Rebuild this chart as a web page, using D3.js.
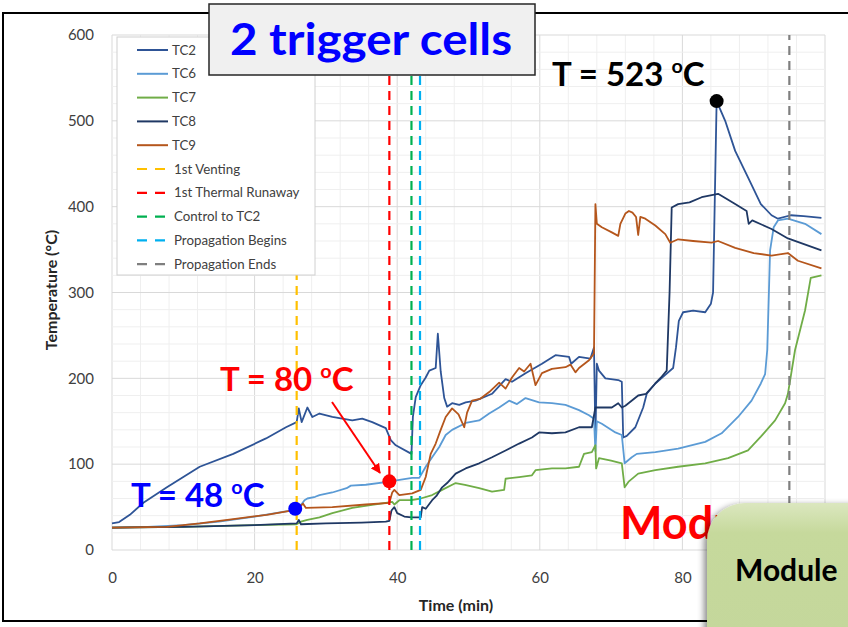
<!DOCTYPE html>
<html><head><meta charset="utf-8">
<script src="https://cdn.jsdelivr.net/npm/d3@7"></script>
<style>
body{margin:0;background:#fff}
svg{display:block}
text{font-family:Lato,"Noto Sans",sans-serif}
</style>
</head><body>
<svg id="c" width="848" height="627"></svg>
<script>
// ---------- data ----------
const xTicks = [0, 20, 40, 60, 80];
const yTicks = [0, 100, 200, 300, 400, 500, 600];
const seriesNames = ["TC2", "TC6", "TC7", "TC8", "TC9"];
const seriesColors = ["#2e5496", "#5b9bd5", "#70ad47", "#1f3864", "#b5561c"];

const tc2Time = [0,1,2.5,4.4,7.7,12.3,17,21.6,24.4,25.9,26.2,26.6,27.4,28.1,29.1,30.9,33.7,35.1,36.5,38.4,39.1,39.8,42,42.2,42.6,43.3,44,44.5,45.4,45.7,46.1,46.6,47,47.7,48.7,49.6,51,53.3,55.2,56.1,58,60.3,62.2,64.1,64.4,65.5,67.1,67.6,67.8,68,68.3,69.2,71,71.5,71.7,72.2,73.4,74.5,75,76.2,77.6,78.7,79.1,79.5,80.1,81.5,83.2,84,84.3,84.8,86,87.4,89.2,91,92.5,93.4,95.2,97,99.5];
const tc2Temp = [31,32.5,41,55,73,97,112,130,143,149,165,149,166,155,159,155,151,153,149,142,128,122,112,155,178,192,201,209,212,252,208,177,167,171,169,172,174,182,199,196,206,217,227,225,217,225,223,236,131,217,209,200,198,196,131,133,143,166,182,194,204,212,236,267,277,279,277,287,300,523,500,465,434,403,390,386,390,389,387];

const tc6Time = [0,5,10,15,20,25.9,26.3,27,27.4,28.5,29.1,30.9,32.9,33.5,35.6,38.4,39,42.1,43.1,44,44.9,45.9,46.8,47.7,49.6,51.5,52.9,54.3,55.7,56.8,58,59.9,61.7,63.6,65.5,66.9,67.6,67.8,68,68.7,70.6,71.5,71.9,72.9,73.6,76.2,79.4,83.2,85.5,87.8,89.7,91,91.6,91.9,92.3,92.8,93.4,94.8,97.2,99.5];
const tc6Temp = [26,27,29,33,39,47,50,58,60,62,64,67,72,75,76,79,80,84,84,97,108,120,134,140,148,151,159,166,174,170,177,172,171,169,163,157,153,115,150,147,137,134,101,108,112,114,118,126,136,155,174,194,205,233,349,376,384,386,380,368];

const tc7Time = [0,10,20,25.9,26.5,27.4,29.1,30.9,33.7,36,38.4,39.3,39.6,40.3,42,43.3,44.9,46.3,48.2,49.5,51.5,53.3,55,55.2,57.1,58.9,59.4,61.7,63.6,65.5,66.2,67.3,67.8,67.9,68.3,70,71.5,71.9,72.5,73.8,76.2,79.4,83.2,86.4,89.2,91,93,94.4,94.8,95.8,97.2,98,99.5];
const tc7Temp = [26,27,29,30,33,35,38,43,49,52,55,56,53,58,58,60,64,70,78,76,72,68,70,83,85,87,93,95,95,97,112,114,122,95,107,104,101,73,80,89,93,97,101,107,116,132,151,171,182,233,279,317,320];

const tc8Time = [0,10,20,25.9,26.2,26.5,30,35,38.4,38.9,39.2,39.6,40,41,42,43.3,43.5,44,44.9,45.5,46.3,47,48.2,49.6,51.5,53.3,55.2,57.1,58.9,59.9,61.7,63.6,65.5,67.3,67.8,70.1,71,71.5,72,73.8,74.9,76.2,77,77.8,78.2,78.5,79.4,81,82.7,85,86,87.4,89,89.3,89.8,92.5,94.8,99.5];
const tc8Temp = [26,27,29,31,35,30,31,32,33,34,46,50,43,39,38,38,50,48,58,63,73,78,89,95,101,108,116,124,131,137,136,137,143,143,166,166,171,166,168,180,182,194,201,209,300,399,403,405,411,415,410,403,395,380,384,374,363,349];

const tc9Time = [0,7.7,12.3,17,21.7,25.9,26.8,27.2,30.9,35.6,38.9,39.3,39.6,40.3,42.1,43.3,44,44.7,45.4,46.1,46.8,47.7,48.6,49.4,49.8,50.5,51.6,52.9,54.3,55.2,56.1,57.1,57.8,58.7,59.4,60.3,61.7,63.6,64.3,65,65.5,66.9,67.6,67.8,68,68.7,70.1,71,71.3,72,72.5,73,73.5,73.8,74.1,74.8,76.2,77.6,78.3,79.4,81.5,84.1,85,87.4,90,92.5,94.8,96.2,99.5];
const tc9Temp = [26,27,31,36,41,47,54,49,50,53,55,67,70,64,66,70,85,112,124,140,155,165,158,143,160,174,176,184,195,188,201,212,208,217,192,206,211,213,216,207,212,221,229,403,380,376,370,366,380,392,395,393,388,367,388,386,378,368,358,362,360,358,360,352,346,343,346,337,328];

const eventNames = ["1st Venting", "1st Thermal Runaway", "Control to TC2", "Propagation Begins", "Propagation Ends"];
const eventTimes = [25.9, 38.9, 42.0, 43.2, 95.0];
const eventColors = ["#ffc000", "#ff0000", "#00b050", "#00b0f0", "#7f7f7f"];

const markerTimes = [25.7, 38.9, 84.8];
const markerTemps = [48, 80, 523];
const markerColors = ["#0000ff", "#ff0000", "#000000"];

// ---------- setup ----------
const svg = d3.select("#c");
const x = d3.scaleLinear().domain([0, 100]).range([112, 825]);
const y = d3.scaleLinear().domain([0, 600]).range([550, 35]);

const defs = svg.append("defs");
defs.append("marker").attr("id", "arr").attr("viewBox", "0 0 10 10")
  .attr("refX", 9).attr("refY", 5).attr("markerWidth", 5).attr("markerHeight", 5)
  .attr("orient", "auto").append("path").attr("d", "M0,0L10,5L0,10z").attr("fill", "#ff0000");
const grad = defs.append("linearGradient").attr("id", "gb").attr("x1", 0).attr("y1", 0).attr("x2", 0).attr("y2", 1);
grad.append("stop").attr("offset", "0").attr("stop-color", "#dbe7bf");
grad.append("stop").attr("offset", "0.15").attr("stop-color", "#c6d99c");
grad.append("stop").attr("offset", "1").attr("stop-color", "#c3d69b");
const sh = defs.append("filter").attr("id", "sh").attr("x", "-20%").attr("y", "-20%").attr("width", "140%").attr("height", "140%");
sh.append("feDropShadow").attr("dx", -3).attr("dy", 2).attr("stdDeviation", 3).attr("flood-color", "#000").attr("flood-opacity", 0.45);

// grid
const g = svg.append("g");
g.selectAll("line.mx").data(d3.range(0, 100.1, 4)).join("line")
  .attr("x1", d => x(d)).attr("x2", d => x(d)).attr("y1", y(0)).attr("y2", y(600))
  .attr("stroke", d => d % 20 === 0 ? "#d9d9d9" : "#efefef").attr("stroke-width", 1);
g.selectAll("line.my").data(d3.range(0, 600.1, 20)).join("line")
  .attr("y1", d => y(d)).attr("y2", d => y(d)).attr("x1", x(0)).attr("x2", x(100))
  .attr("stroke", d => d % 100 === 0 ? "#d9d9d9" : "#efefef").attr("stroke-width", 1);

// axes
const ax = svg.append("g").attr("transform", `translate(0,${y(0)})`)
  .call(d3.axisBottom(x).tickValues(xTicks).tickSize(0).tickPadding(22));
ax.select(".domain").remove();
ax.selectAll("text").attr("font-size", 15).attr("fill", "#404040").style("font-family", "Lato");
const ay = svg.append("g").attr("transform", `translate(${x(0)},0)`)
  .call(d3.axisLeft(y).tickValues(yTicks).tickSize(0).tickPadding(18));
ay.select(".domain").remove();
ay.selectAll("text").attr("font-size", 15).attr("fill", "#404040").style("font-family", "Lato");

svg.append("text").attr("x", 456).attr("y", 611).attr("text-anchor", "middle")
  .attr("font-size", 16).attr("font-weight", "bold").attr("fill", "#262626").text("Time (min)");
svg.append("text").attr("transform", "translate(57,290) rotate(-90)").attr("text-anchor", "middle")
  .attr("font-size", 16).attr("font-weight", "bold").attr("fill", "#262626").text("Temperature (°C)");

// series
const times = [tc2Time, tc6Time, tc7Time, tc8Time, tc9Time];
const temps = [tc2Temp, tc6Temp, tc7Temp, tc8Temp, tc9Temp];
const line = d3.line().x(d => x(d[0])).y(d => y(d[1]));
[0, 1, 2, 3, 4].forEach(i => {
  const pts = times[i].map((t, k) => [t, temps[i][k]]);
  svg.append("path").datum(pts).attr("d", line).attr("fill", "none")
    .attr("stroke", seriesColors[i]).attr("stroke-width", 1.8).attr("stroke-linejoin", "round");
});

// event lines
svg.selectAll("line.ev").data(eventTimes).join("line")
  .attr("x1", d => x(d)).attr("x2", d => x(d)).attr("y1", y(0)).attr("y2", y(600))
  .attr("stroke", (d, i) => eventColors[i]).attr("stroke-width", 2.2).attr("stroke-dasharray", "9,6");

// legend
const lg = svg.append("g");
lg.append("rect").attr("x", 117).attr("y", 37).attr("width", 198).attr("height", 238)
  .attr("fill", "#fff").attr("stroke", "#d0d0d0").attr("stroke-width", 1);
const legNames = seriesNames.concat(eventNames);
const legColors = seriesColors.concat(eventColors);
legNames.forEach((n, i) => {
  const yy = 50 + i * 23.8;
  lg.append("line").attr("x1", 137).attr("x2", 168).attr("y1", yy).attr("y2", yy)
    .attr("stroke", legColors[i]).attr("stroke-width", i < 5 ? 2 : 2.2)
    .attr("stroke-dasharray", i < 5 ? null : "10,8");
  lg.append("text").attr("x", i < 5 ? 172 : 174).attr("y", yy + 4.5).attr("font-size", 13.3)
    .attr("fill", "#404040").text(n);
});

// markers
svg.selectAll("circle.mk").data(markerTimes).join("circle")
  .attr("cx", d => x(d)).attr("cy", (d, i) => y(markerTemps[i])).attr("r", 7)
  .attr("fill", (d, i) => markerColors[i]);

// arrow
svg.append("line").attr("x1", 332).attr("y1", 402).attr("x2", 380).attr("y2", 473)
  .attr("stroke", "#ff0000").attr("stroke-width", 2).attr("marker-end", "url(#arr)");

// annotation texts
function ann(tx, ty, val, color, size) {
  const t = svg.append("text").attr("x", tx).attr("y", ty).attr("font-size", size)
    .attr("font-weight", "bold").attr("fill", color);
  t.append("tspan").text("T = " + val + " ");
  t.append("tspan").attr("font-size", size * 0.6).attr("dy", -size * 0.38).text("o");
  t.append("tspan").attr("dy", size * 0.38).text("C");
}
ann(552, 86, markerTemps[2], "#000", 33);
ann(220, 391, markerTemps[1], "#ff0000", 33);
ann(131, 507, markerTemps[0], "#0000ff", 33);

svg.append("text").attr("x", 620).attr("y", 539).attr("font-size", 45).attr("font-weight", "bold")
  .attr("fill", "#ff0000").text("Module");

// outer frame
svg.append("rect").attr("x", 3).attr("y", 13).attr("width", 900).attr("height", 608)
  .attr("fill", "none").attr("stroke", "#000").attr("stroke-width", 2);

// title box
svg.append("rect").attr("x", 209).attr("y", 4).attr("width", 326).attr("height", 71)
  .attr("fill", "#f0f0f0").attr("stroke", "#262626").attr("stroke-width", 1.5);
svg.append("text").attr("x", 230).attr("y", 55)
  .attr("font-size", 44).attr("font-weight", "bold").attr("fill", "#0000ff")
  .attr("textLength", 282).attr("lengthAdjust", "spacingAndGlyphs").text("2 trigger cells");

// module box
svg.append("rect").attr("x", 707).attr("y", 503).attr("width", 220).attr("height", 200).attr("rx", 38)
  .attr("fill", "url(#gb)").attr("filter", "url(#sh)");
svg.append("text").attr("x", 735).attr("y", 581).attr("font-size", 30).attr("font-weight", "bold")
  .attr("fill", "#000").text("Module");
</script>
</body></html>
